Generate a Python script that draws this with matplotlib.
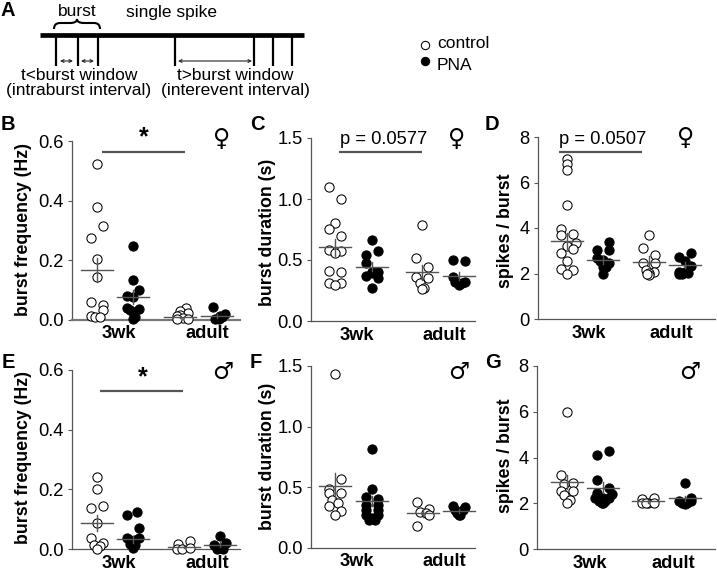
import matplotlib
matplotlib.use("Agg")
import matplotlib.pyplot as plt
from matplotlib.patches import FancyArrowPatch, PathPatch
from matplotlib.path import Path

plt.rcParams['font.family'] = ['Liberation Sans', 'DejaVu Sans']
W, H = 717, 571
GRAY = '#555555'

group_labels = ['3wk', 'adult']

# values per panel: control 3wk, PNA 3wk, control adult, PNA adult
b_values = [
    [.523,.38,.316,.275,.204,.144,.061,.05,.032,.012,.009,.009],
    [.248,.134,.102,.08,.078,.04,.036,.033,.028,.011,.002],
    [.039,.031,.025,.017,.013,.008,.003,.002],
    [.042,.02,.015,.009,.005,.002],
]
c_values = [
    [1.098,1.0,.80,.753,.70,.586,.572,.556,.413,.405,.315,.31,.298],
    [.665,.57,.54,.474,.405,.405,.39,.372,.356,.268],
    [.79,.515,.446,.358,.35,.315,.274,.26],
    [.504,.493,.364,.323,.318,.31,.296],
]
d_values = [
    [7.02,6.83,6.54,5.0,3.94,3.71,3.74,3.33,3.23,3.08,2.92,2.57,2.19,2.15,1.97],
    [3.37,3.04,3.04,2.67,2.6,2.53,2.48,2.38,2.3,2.28,1.97],
    [3.68,3.12,2.82,2.48,2.48,2.16,2.07,2.01,1.94,1.98],
    [2.92,2.74,2.53,2.34,2.06,2.06,2.02,1.96,1.99],
]
e_values = [
    [.243,.20,.137,.143,.086,.038,.02,.012,.009,.0],
    [.125,.113,.072,.038,.036,.031,.029,.023,.016,.012,.005],
    [.027,.016,.001,.0,.002],
    [.044,.02,.012,.005,.001,.001],
]
f_values = [
    [1.43,.567,.485,.452,.452,.397,.375,.35,.307,.268],
    [.82,.49,.42,.40,.355,.355,.315,.315,.275,.275,.245,.23,.23],
    [.378,.323,.296,.288,.268,.178],
    [.348,.342,.315,.31,.288,.274,.268],
]
g_values = [
    [5.99,3.24,2.87,2.84,2.53,2.53,2.36,2.14,2.02],
    [4.3,4.12,3.01,2.65,2.43,2.4,2.21,2.25,2.21,2.11,2.11,2.02,1.99],
    [2.18,2.24,2.0,1.99,1.99,2.02],
    [2.89,2.25,2.1,2.02,1.99,2.1,1.96],
]
b_means, b_sems = [.169,.076,.011,.014], [.04,.024,.004,.007]
c_means, c_sems = [.605,.446,.40,.37], [.07,.04,.06,.035]
d_means, d_sems = [3.42,2.61,2.5,2.36], [.35,.18,.25,.14]
e_means, e_sems = [.088,.033,.007,.015], [.027,.012,.004,.007]
f_means, f_sems = [.512,.386,.288,.304], [.105,.04,.03,.015]
g_means, g_sems = [2.94,2.68,2.08,2.21], [.3,.25,.05,.1]

y_ticks_freq = [0.0, 0.2, 0.4, 0.6]
y_ticks_dur = [0.0, 0.5, 1.0, 1.5]
y_ticks_spk = [0, 2, 4, 6, 8]

# horizontal swarm offsets of the points, in pixels (layout only)
b_off = [[0,0,6,-6,0,0,-6,6,6,-6,-2,3],[0,0,6,-6,0,-6,6,-3,0,2,0],[6,0,8,0,-3,3,8,-3],[-4,8,3,5,-2,2]]
c_off = [[-6,6,0,-6,6,-6,6,0,-6,6,-6,6,0],[0,6,-6,-6,6,0,0,-6,6,0],[0,-6,6,-6,6,-2,2,0],[-6,6,-6,6,-4,3,0]]
d_off = [[0,0,0,0,-6,-6,6,9,0,6,-6,0,-6,6,0],[6,-6,6,-6,0,-3,6,3,0,3,0],[0,-6,6,-6,6,-3,5,0,0,-2],[6,-6,0,6,-6,0,3,-3,-6]]
e_off = [[0,0,-6,6,0,-6,6,-3,3,0],[4,-6,6,-6,6,-3,2,0,-3,2,0],[6,-6,-7,-2,6],[0,6,-6,0,-3,3]]
f_off = [[0,6,-6,6,-6,-3,3,-6,6,0],[0,0,-6,6,-6,6,-6,6,-6,6,0,-3,3],[-6,6,-3,3,6,-6],[-6,6,-4,4,-2,1,0]]
g_off = [[0,-6,6,-3,-6,6,-3,3,0],[6,-6,-6,6,-6,9,0,-8,6,-4,2,-1,0],[-6,6,0,-6,-2,6],[0,6,-6,-3,2,6,0]]

panels = [
    dict(letter='B', lp=(8,124), rect=(72,141,240,320), ymax=.6, ticks=y_ticks_freq, fmt='%.1f', ylabel='burst frequency (Hz)',
         ylp=(24,230), centers=(97,133,180,217), vals=b_values, off=b_off, means=b_means, sems=b_sems,
         bar=(102,185,152), sig='*', sigp=(144,137), sex='\u2640', sexp=(222,139), lab=(119,207), base=(1.6,'#777777')),
    dict(letter='C', lp=(257,124), rect=(311,138,475,321), ymax=1.5, ticks=y_ticks_dur, fmt='%.1f', ylabel='burst duration (s)',
         ylp=(268,232), centers=(335,372,422,459), vals=c_values, off=c_off, means=c_means, sems=c_sems,
         bar=(339,422,152), sig='p = 0.0577', sigp=(384,140), sex='\u2640', sexp=(457,139), lab=(357,444), base=(0.9,GRAY)),
    dict(letter='D', lp=(492,124), rect=(538,137,715,319), ymax=8, ticks=y_ticks_spk, fmt='%d', ylabel='spikes / burst',
         ylp=(505,231), centers=(567,603,649,685), vals=d_values, off=d_off, means=d_means, sems=d_sems,
         bar=(559,642,152), sig='p = 0.0507', sigp=(603,140), sex='\u2640', sexp=(686,138), lab=(589,671), base=(0.9,GRAY)),
    dict(letter='E', lp=(8,362), rect=(72,370,240,549), ymax=.6, ticks=y_ticks_freq, fmt='%.1f', ylabel='burst frequency (Hz)',
         ylp=(24,457), centers=(97,133,184,220), vals=e_values, off=e_off, means=e_means, sems=e_sems,
         bar=(100,183,391), sig='*', sigp=(143,377), sex='\u2642', sexp=(223,372), lab=(119,207), base=(0.9,GRAY)),
    dict(letter='F', lp=(256,363), rect=(311,366,475,548), ymax=1.5, ticks=y_ticks_dur, fmt='%.1f', ylabel='burst duration (s)',
         ylp=(268,456), centers=(335,372,423,459), vals=f_values, off=f_off, means=f_means, sems=f_sems,
         bar=None, sig=None, sigp=None, sex='\u2642', sexp=(459,372), lab=(357,444), base=(0.9,GRAY)),
    dict(letter='G', lp=(493,362), rect=(537,366,715,549), ymax=8, ticks=y_ticks_spk, fmt='%d', ylabel='spikes / burst',
         ylp=(505,456), centers=(567,603,648,685), vals=g_values, off=g_off, means=g_means, sems=g_sems,
         bar=None, sig=None, sigp=None, sex='\u2642', sexp=(690,372), lab=(590,673), base=(0.9,GRAY)),
]

fig = plt.figure(figsize=(W/100, H/100), dpi=100)
fig.patch.set_facecolor('white')

# overlay in pixel coordinates for annotations and schematic
ov = fig.add_axes([0, 0, 1, 1], zorder=10)
ov.set_xlim(0, W); ov.set_ylim(H, 0); ov.axis('off'); ov.patch.set_alpha(0)

TICK_FS = 13.2
for p in panels:
    l, t, r, b = p['rect']
    ax = fig.add_axes([l/W, 1-b/H, (r-l)/W, (b-t)/H])
    ax.set_xlim(l, r); ax.set_ylim(0, p['ymax'])
    for s in ('top', 'right'):
        ax.spines[s].set_visible(False)
    ax.spines['left'].set_color(GRAY); ax.spines['left'].set_linewidth(0.9)
    ax.spines['bottom'].set_linewidth(p['base'][0]); ax.spines['bottom'].set_color(p['base'][1])
    ax.set_yticks(p['ticks']); ax.set_yticklabels([p['fmt'] % v for v in p['ticks']], fontsize=TICK_FS)
    ax.tick_params(axis='y', length=3, width=0.8, color=GRAY, pad=3)
    ax.set_xticks([])
    for i, (cx, vals, off) in enumerate(zip(p['centers'], p['vals'], p['off'])):
        face = 'white' if i % 2 == 0 else 'black'
        ax.scatter([cx + o for o in off], vals, s=44, facecolor=face, edgecolor='black',
                   linewidth=0.75, clip_on=False, zorder=3)
        m, e = p['means'][i], p['sems'][i]
        ax.plot([cx-16, cx+16], [m, m], color=GRAY, lw=1.0, zorder=4, clip_on=False)
        ax.plot([cx, cx], [m-e, m+e], color=GRAY, lw=1.0, zorder=4, clip_on=False)
    ov.text(p['lp'][0], p['lp'][1], p['letter'], fontsize=14.5, fontweight='bold', ha='center', va='center')
    ov.text(p['ylp'][0], p['ylp'][1], p['ylabel'], rotation=90, fontsize=12.8, fontweight='bold', ha='center', va='center')
    ov.text(p['sexp'][0], p['sexp'][1], p['sex'], fontsize=17, ha='center', va='center', family='DejaVu Sans')
    for name, lx in zip(group_labels, p['lab']):
        ov.text(lx, b+14, name, fontsize=13.2, fontweight='bold', ha='center', va='center')
    if p['bar']:
        x0, x1, y = p['bar']
        ov.plot([x0, x1], [y, y], color=GRAY, lw=1.6, solid_capstyle='butt')
        if p['sig'] == '*':
            ov.text(p['sigp'][0], p['sigp'][1], '*', fontsize=18, fontweight='bold', ha='center', va='center')
        else:
            ov.text(p['sigp'][0], p['sigp'][1], p['sig'], fontsize=TICK_FS, ha='center', va='center')

# Panel A schematic
ov.text(8, 11, 'A', fontsize=14.5, fontweight='bold', ha='center', va='center')
ov.plot([40, 304], [34.5, 34.5], color='black', lw=3.4, solid_capstyle='butt')
for x in (56, 78, 98, 175, 254, 273, 292):
    ov.plot([x, x], [36, 66], color='black', lw=1.6, solid_capstyle='butt')
for x0, x1 in ((60, 73), (81, 94), (178, 252)):
    ov.add_patch(FancyArrowPatch((x0, 61), (x1, 61), arrowstyle='<->', mutation_scale=5, lw=0.8, color='#222222', shrinkA=0, shrinkB=0))
brace = Path([(54, 29), (54, 23), (60, 23), (70, 23), (77, 23), (77, 19), (77, 23), (84, 23), (94, 23), (100, 23), (100, 29)],
             [Path.MOVETO, Path.CURVE3, Path.CURVE3, Path.LINETO, Path.CURVE3, Path.CURVE3, Path.CURVE3, Path.CURVE3, Path.LINETO, Path.CURVE3, Path.CURVE3])
ov.add_patch(PathPatch(brace, fill=False, lw=1.5, edgecolor='black'))
A_FS = 12.5
ov.text(77, 12, 'burst', fontsize=A_FS, ha='center', va='center')
ov.text(171, 12, 'single spike', fontsize=A_FS, ha='center', va='center')
ov.text(79, 75, 't<burst window', fontsize=A_FS, ha='center', va='center')
ov.text(79, 90, '(intraburst interval)', fontsize=A_FS, ha='center', va='center')
ov.text(235, 75, 't>burst window', fontsize=A_FS, ha='center', va='center')
ov.text(235, 90, '(interevent interval)', fontsize=A_FS, ha='center', va='center')

# legend
ov.scatter([425], [45], s=36, facecolor='white', edgecolor='black', linewidth=0.75)
ov.scatter([425], [61], s=36, facecolor='black', edgecolor='black', linewidth=0.75)
ov.text(437, 44, 'control', fontsize=A_FS, ha='left', va='center')
ov.text(437, 65, 'PNA', fontsize=A_FS, ha='left', va='center')

fig.savefig('out.png', dpi=100)
